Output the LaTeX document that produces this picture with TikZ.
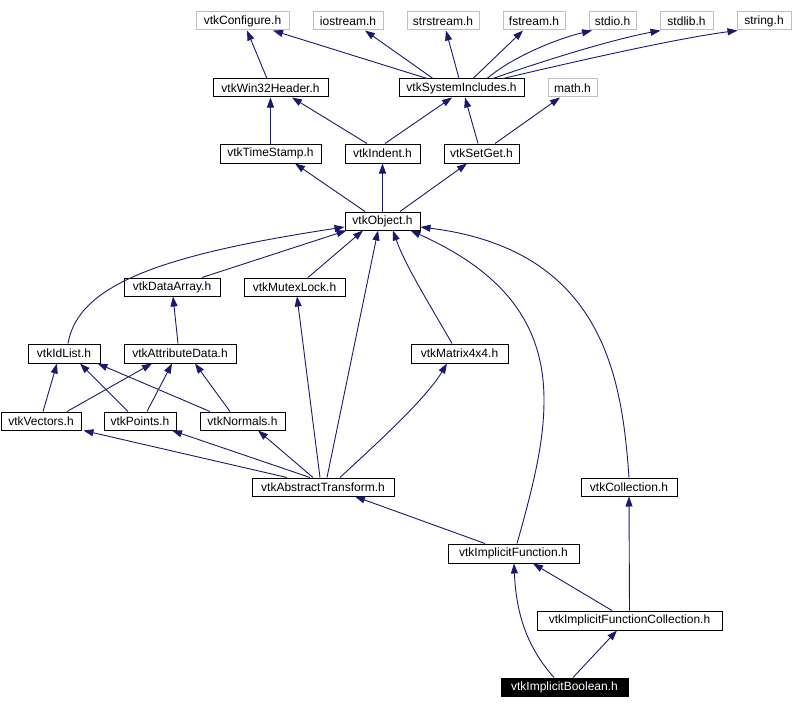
\documentclass[tikz,border=0pt]{standalone}
\usepackage{fontspec}
\setmainfont{Liberation Sans}
\usetikzlibrary{arrows.meta}
\definecolor{edgeblue}{HTML}{191970}
\definecolor{extgrey}{HTML}{BFBFBF}
\begin{document}
\begin{tikzpicture}[x=1pt,y=-1pt,
  hdr/.style={draw=black, line width=1pt, minimum height=18pt, inner sep=0pt, font=\fontsize{12}{14}\selectfont, fill=white},
  ext/.style={hdr, draw=extgrey},
  cur/.style={hdr, fill=black, text=white},
  dep/.style={draw=edgeblue, line width=0.9pt, -{Triangle[length=10pt,width=7pt]}}]
\useasboundingbox[fill=white] (0,0) rectangle (793,709);
% external headers
\node[ext, minimum width=93pt] (cfg) at (242.5,21) {vtkConfigure.h};
\node[ext, minimum width=70pt] (ios) at (348,21) {iostream.h};
\node[ext, minimum width=72pt] (strs) at (443,21) {strstream.h};
\node[ext, minimum width=62pt] (fstr) at (534,21) {fstream.h};
\node[ext, minimum width=47pt] (stdio) at (612.5,21) {stdio.h};
\node[ext, minimum width=53pt] (stdlib) at (686.5,21) {stdlib.h};
\node[ext, minimum width=54pt] (string) at (764,21) {string.h};
\node[ext, minimum width=49pt] (math) at (572.5,88) {math.h};
% project headers
\node[hdr, minimum width=115pt] (win) at (270.5,88) {vtkWin32Header.h};
\node[hdr, minimum width=125pt] (sys) at (461.5,88) {vtkSystemIncludes.h};
\node[hdr, minimum width=101pt, minimum height=19pt] (ts) at (270.5,153.5) {vtkTimeStamp.h};
\node[hdr, minimum width=75pt, minimum height=19pt] (ind) at (382.5,153.5) {vtkIndent.h};
\node[hdr, minimum width=75pt, minimum height=19pt] (sg) at (481.5,153.5) {vtkSetGet.h};
\node[hdr, minimum width=75pt] (obj) at (382.5,221) {vtkObject.h};
\node[hdr, minimum width=96pt] (da) at (172,287) {vtkDataArray.h};
\node[hdr, minimum width=101pt] (mut) at (294.5,287) {vtkMutexLock.h};
\node[hdr, minimum width=72pt, minimum height=19pt] (idl) at (64,353.5) {vtkIdList.h};
\node[hdr, minimum width=112pt, minimum height=19pt] (att) at (180,353.5) {vtkAttributeData.h};
\node[hdr, minimum width=97pt, minimum height=19pt] (mat) at (459.5,353.5) {vtkMatrix4x4.h};
\node[hdr, minimum width=80pt] (vec) at (41,421) {vtkVectors.h};
\node[hdr, minimum width=72pt] (pts) at (140,421) {vtkPoints.h};
\node[hdr, minimum width=85pt] (nrm) at (242.5,421) {vtkNormals.h};
\node[hdr, minimum width=142pt] (at) at (323,487) {vtkAbstractTransform.h};
\node[hdr, minimum width=96pt] (col) at (629,487) {vtkCollection.h};
\node[hdr, minimum width=131pt, minimum height=19pt] (if) at (513.5,553.5) {vtkImplicitFunction.h};
\node[hdr, minimum width=185pt, minimum height=19pt] (ifc) at (629.5,620.5) {vtkImplicitFunctionCollection.h};
\node[cur, minimum width=127pt] (ib) at (564.5,687) {vtkImplicitBoolean.h};
% edges: top layer
\draw[dep] ([xshift=-3.5pt]win.north) -- ([xshift=4.5pt]cfg.south);
\draw[dep] ([xshift=-34.5pt]sys.north) -- ([xshift=30.5pt]cfg.south);
\draw[dep] ([xshift=-28.5pt]sys.north) -- ([xshift=17pt]ios.south);
\draw[dep] ([xshift=-2.5pt]sys.north) -- ([xshift=3pt]strs.south);
\draw[dep] ([xshift=11.5pt]sys.north) -- ([xshift=-11pt]fstr.south);
\draw[dep] ([xshift=25.5pt]sys.north) .. controls (515,55) and (560,38) .. ([xshift=-20.5pt]stdio.south);
\draw[dep] ([xshift=31.5pt]sys.north) .. controls (560,55) and (620,38) .. ([xshift=1pt]stdlib.south west);
\draw[dep] ([xshift=41.5pt]sys.north) .. controls (590,58) and (680,38) .. ([xshift=1pt]string.south west);
% second layer
\draw[dep] (ts.north) -- (win.south);
\draw[dep] ([xshift=-15.5pt]ind.north) -- ([xshift=21.5pt]win.south);
\draw[dep] ([xshift=2.5pt]ind.north) -- ([xshift=-9.5pt]sys.south);
\draw[dep] ([xshift=-3.5pt]sg.north) -- ([xshift=3.5pt]sys.south);
\draw[dep] ([xshift=13.5pt]sg.north) -- ([xshift=-12.5pt]math.south);
% third layer
\draw[dep] ([xshift=-17.5pt]obj.north) -- ([xshift=24.5pt]ts.south);
\draw[dep] (obj.north) -- (ind.south);
\draw[dep] ([xshift=17.5pt]obj.north) -- ([xshift=-14.5pt]sg.south);
% into vtkObject
\draw[dep] ([xshift=4pt]idl.north) .. controls (78,285) and (160,255) .. ([yshift=-6pt]obj.west);
\draw[dep] ([xshift=30pt]da.north) -- ([xshift=2pt]obj.south west);
\draw[dep] ([xshift=13.5pt]mut.north) -- ([xshift=-19.5pt]obj.south);
\draw[dep] ([xshift=4pt]at.north) -- ([xshift=-4.5pt]obj.south);
\draw[dep] ([xshift=-7.5pt]mat.north) .. controls (430,305) and (405,265) .. ([xshift=10.5pt]obj.south);
\draw[dep] ([xshift=3.5pt]if.north) .. controls (535,480) and (544,440) .. (544,400) .. controls (544,330) and (510,275) .. ([xshift=-10pt]obj.south east);
\draw[dep] (col.north) .. controls (622,380) and (605,250) .. ([yshift=-6pt]obj.east);
% attribute layer
\draw[dep] ([xshift=-2pt]att.north) -- ([xshift=1pt]da.south);
\draw[dep] ([xshift=2pt]vec.north) -- ([xshift=-7pt]idl.south);
\draw[dep] ([xshift=26pt]vec.north) -- ([xshift=-28pt]att.south);
\draw[dep] ([xshift=-12pt]pts.north) -- ([xshift=16pt]idl.south);
\draw[dep] ([xshift=7pt]pts.north) -- ([xshift=-8pt]att.south);
\draw[dep] ([xshift=-32.5pt]nrm.north) -- ([xshift=-3pt]idl.south east);
\draw[dep] ([xshift=-12.5pt]nrm.north) -- ([xshift=15pt]att.south);
% abstract transform
\draw[dep] ([xshift=-36pt]at.north) -- ([xshift=2pt]vec.south east);
\draw[dep] ([xshift=-13pt]at.north) -- ([xshift=32pt]pts.south);
\draw[dep] ([xshift=-10pt]at.north) -- ([xshift=15.5pt]nrm.south);
\draw[dep] ([xshift=-3pt]at.north) -- ([xshift=2.5pt]mut.south);
\draw[dep] ([xshift=17pt]at.north) .. controls (375,445) and (425,400) .. ([xshift=-12.5pt]mat.south);
\draw[dep] ([xshift=-28.5pt]if.north) -- ([xshift=32pt]at.south);
% implicit functions
\draw[dep] ([xshift=-17.5pt]ifc.north) -- ([xshift=19.5pt]if.south);
\draw[dep] (ifc.north) -- (col.south);
\draw[dep] ([xshift=-10.5pt]ib.north) .. controls (525,645) and (516,610) .. ([xshift=0.5pt]if.south);
\draw[dep] ([xshift=8.5pt]ib.north) -- ([xshift=-12.5pt]ifc.south);
\end{tikzpicture}
\end{document}
